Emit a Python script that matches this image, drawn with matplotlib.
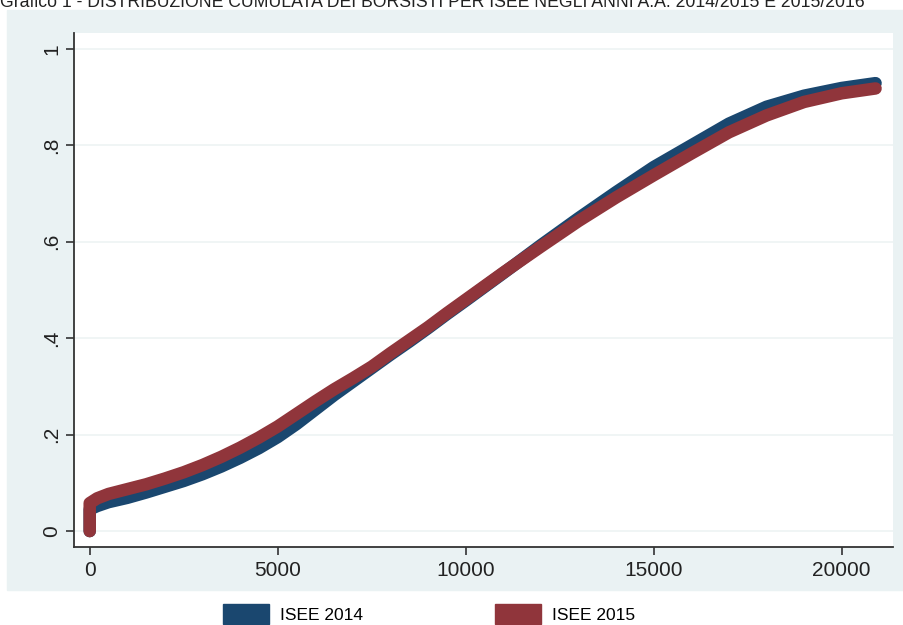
import matplotlib
matplotlib.use("Agg")
import matplotlib.pyplot as plt
import matplotlib.patches as mpatches

# cumulative share of scholarship holders by ISEE
isee_x = [0, 0, 200, 500, 1000, 1500, 2000, 2500, 3000, 3500, 4000, 4500,
          5000, 5500, 6000, 6500, 7000, 7500, 8000, 8500, 9000, 9500, 10000,
          11000, 12000, 13000, 14000, 15000, 16000, 17000, 18000, 19000,
          20000, 20900]
isee14_y = [0, 0.045, 0.052, 0.060, 0.069, 0.080, 0.092, 0.104, 0.118, 0.134,
            0.152, 0.172, 0.195, 0.222, 0.252, 0.282, 0.310, 0.338, 0.366,
            0.393, 0.421, 0.450, 0.478, 0.535, 0.593, 0.649, 0.703, 0.755,
            0.800, 0.845, 0.880, 0.903, 0.919, 0.929]
isee15_y = [0, 0.058, 0.068, 0.077, 0.087, 0.097, 0.109, 0.122, 0.137, 0.154,
            0.173, 0.194, 0.217, 0.243, 0.269, 0.294, 0.317, 0.341, 0.369,
            0.396, 0.423, 0.452, 0.480, 0.536, 0.590, 0.643, 0.692, 0.738,
            0.783, 0.827, 0.862, 0.890, 0.908, 0.918]

labels = ["ISEE 2014", "ISEE 2015"]
colors = ["#1A476F", "#90353B"]
x_ticks = [0, 5000, 10000, 15000, 20000]
y_ticks = [0, 0.2, 0.4, 0.6, 0.8, 1]
y_ticklabels = ["0", ".2", ".4", ".6", ".8", "1"]
title = ("Grafico 1 - DISTRIBUZIONE CUMULATA DEI BORSISTI PER ISEE "
         "NEGLI ANNI A.A. 2014/2015 E 2015/2016")

W, H = 904, 625
panel = "#EAF2F3"
dark = "#333333"

plt.rcParams["font.family"] = ["Liberation Sans", "DejaVu Sans"]

fig = plt.figure(figsize=(W / 100, H / 100), dpi=100)
fig.patch.set_facecolor("white")

# light graph region behind the plot
fig.patches.append(mpatches.Rectangle((7 / W, 1 - 590 / H), (W - 7) / W, 580 / H,
                                      transform=fig.transFigure, color=panel, zorder=-1))

ax = fig.add_axes([74 / W, 1 - 547 / H, (893 - 74) / W, (547 - 33) / H])
ax.set_facecolor("white")

ax.plot(isee_x, isee14_y, color=colors[0], lw=9, solid_capstyle="round",
        solid_joinstyle="round", zorder=3)
ax.plot(isee_x, isee15_y, color=colors[1], lw=9, solid_capstyle="round",
        solid_joinstyle="round", zorder=4)

ax.set_xlim(-418, 21364)
ax.set_ylim(-0.033, 1.033)
ax.set_xticks(x_ticks)
ax.set_xticklabels([str(t) for t in x_ticks])
ax.set_yticks(y_ticks)
ax.set_yticklabels(y_ticklabels, rotation=90, va="center")

ax.grid(axis="y", color="#EDF3F4", lw=1.2)
ax.set_axisbelow(True)
for s in ["top", "right"]:
    ax.spines[s].set_visible(False)
for s in ["left", "bottom"]:
    ax.spines[s].set_color(dark)
    ax.spines[s].set_linewidth(1.3)
ax.tick_params(axis="both", colors=dark, length=6, width=1.2, labelsize=15,
               labelcolor="#222222")
ax.tick_params(axis="y", pad=3)
ax.tick_params(axis="x", pad=4)

# title, cut at the top edge as in the original
fig.text(0, 1 - 7 / H, title, fontsize=12.7, color="#222222",
         ha="left", va="baseline")

handles = [mpatches.Patch(color=c, label=l) for c, l in zip(colors, labels)]
fig.legend(handles=handles, loc="upper left", bbox_to_anchor=(223 / W, 1 - 604 / H),
           ncol=2, frameon=False, borderpad=0, borderaxespad=0,
           handlelength=2.65, handleheight=1.38, handletextpad=0.63,
           columnspacing=7.6, prop={"size": 12.5})

fig.savefig("out.png", dpi=100, facecolor="white")
